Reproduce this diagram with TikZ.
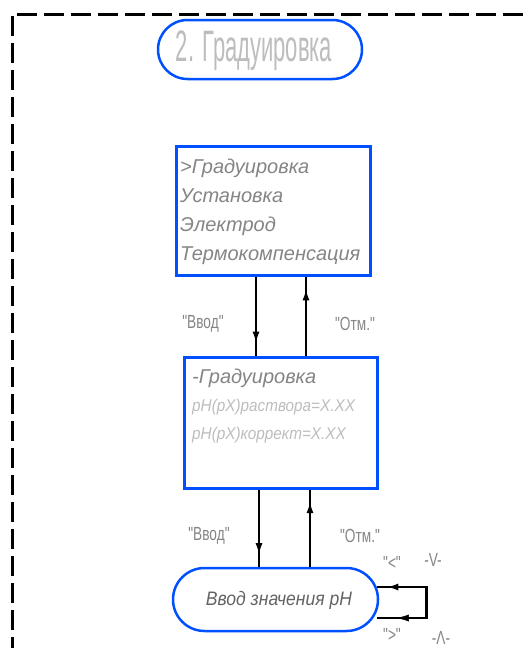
\documentclass[tikz,border=0pt]{standalone}
\usepackage{fontspec}
\setmainfont{Liberation Sans}
\newfontfamily\titlefont[FakeStretch=0.5]{Liberation Sans}
\newfontfamily\boxfont[FakeStretch=0.9]{Liberation Sans}
\newfontfamily\wideboxfont{Liberation Sans}
\newfontfamily\narrowfont[FakeStretch=0.72]{Liberation Sans}
\usetikzlibrary{arrows.meta,decorations.markings,shapes.misc}
\definecolor{frameblue}{HTML}{0050FF}
\definecolor{txtgrey}{HTML}{858585}
\definecolor{lightgrey}{HTML}{BDBDBD}
\tikzset{
  statebox/.style={draw=frameblue,line width=3pt,rectangle,inner sep=0pt,fill=white},
  ovalbox/.style={draw=frameblue,line width=2.5pt,rounded rectangle,inner sep=0pt,fill=white},
  conn/.style={line width=2.6pt,black},
  markfwd/.style={postaction={decorate},decoration={markings,mark=at position #1 with {\arrow{Latex[length=12pt,width=7pt]}}}},
  lbl/.style={font=\narrowfont\fontsize{19}{19}\selectfont,text=txtgrey,inner sep=0pt},
  boxtxt/.style={font=\wideboxfont\itshape\fontsize{20}{29}\selectfont,text=txtgrey,inner sep=0pt,anchor=north west,align=left},
}
\begin{document}
\begin{tikzpicture}[x=1pt,y=-1pt]
\useasboundingbox (0,0) rectangle (523,648);
% dashed frame
\draw[line width=3pt,dash pattern=on 20pt off 7pt] (523,14) -- (12,14) -- (12,648);
% title
\node[ovalbox,minimum width=204pt,minimum height=59pt] (title) at (260,49.5) {};
\node[font=\titlefont\fontsize{44}{44}\selectfont,text=lightgrey,inner sep=0pt] (titletxt) at (254,51) {2. Градуировка};
% box 1
\node[statebox,minimum width=194pt,minimum height=129pt] (b1) at (273,210.5) {};
\node[boxtxt] (b1txt) at (180,159) {>Градуировка\\Установка\\Электрод\\Термокомпенсация};
% box 2
\node[statebox,minimum width=193pt,minimum height=131pt] (b2) at (280.5,422.5) {};
\node[boxtxt,font=\boxfont\itshape\fontsize{17}{28}\selectfont] (b2txt) at (192,369) {{\wideboxfont\fontsize{20}{20}\selectfont -Градуировка}\\\textcolor{lightgrey}{pH(pX)раствора=X.XX}\\\textcolor{lightgrey}{pH(pX)коррект=X.XX}};
% oval
\node[ovalbox,minimum width=205pt,minimum height=63pt] (ov) at (275.5,599.5) {};
\node[font=\boxfont\itshape\fontsize{19.5}{19.5}\selectfont,text=txtgrey!75!black,inner sep=0pt] (ovtxt) at (279,600) {Ввод значения pH};
% connectors box1 <-> box2
\draw[conn,markfwd=0.85] ([xshift=-17pt]b1.south) -- ([xshift=-17pt]b1.south |- b2.north);
\draw[conn,markfwd=0.85] ([xshift=33pt]b1.south |- b2.north) -- ([xshift=33pt]b1.south);
\node[lbl] (l1) at (203,324) {"Ввод"};
\node[lbl] (l2) at (355,324) {"Отм."};
% connectors box2 <-> oval
\draw[conn,markfwd=0.85] ([xshift=-21.5pt]b2.south) -- ([xshift=-21.5pt]b2.south |- ov.north);
\draw[conn,markfwd=0.85] ([xshift=29.5pt]b2.south |- ov.north) -- ([xshift=29.5pt]b2.south);
\node[lbl] (l3) at (209,536) {"Ввод"};
\node[lbl] (l4) at (360,536) {"Отм."};
% self loop
\coordinate (lt) at ([yshift=12.5pt,xshift=-2pt]ov.east);
\coordinate (lb) at ([yshift=-18.5pt,xshift=-2pt]ov.east);
\draw[conn,markfwd=0.93,line join=miter] (lb) -- ++(49,0) -- ++(0,-31) -- (lt);
\draw[draw=none,postaction={decorate},decoration={markings,mark=at position 0.6 with {\arrow{Latex[length=12pt,width=7pt]}}}] ([xshift=49pt]lb) -- (lb);
\node[lbl] (l5) at (392,563) {"<"};
\node[lbl] (l6) at (433,560) {-V-};
\node[lbl] (l7) at (392,635) {">"};
\node[lbl] (l8) at (441,638) {-Λ-};
\end{tikzpicture}
\end{document}
